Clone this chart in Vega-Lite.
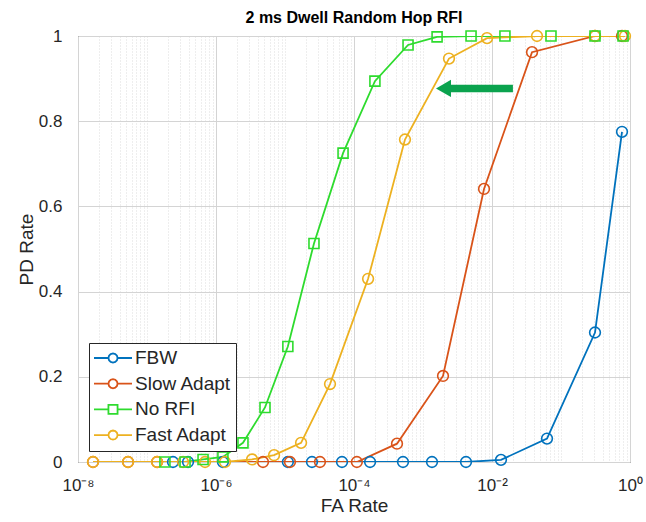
{
  "$schema": "https://vega.github.io/schema/vega-lite/v6.json",
  "autosize": "none",
  "padding": {"left": 78, "top": 36, "right": 16, "bottom": 60},
  "width": 552,
  "height": 426,
  "background": "white",
  "config": {
    "font": "Liberation Sans",
    "view": {"stroke": "#262626", "strokeWidth": 1},
    "axis": {"domain": false, "ticks": false, "labelFont": "Liberation Sans", "titleFont": "Liberation Sans", "labelColor": "#262626", "titleColor": "#262626", "titleFontWeight": "normal"}
  },
  "title": {"text": "2 ms Dwell Random Hop RFI", "fontSize": 16, "fontWeight": "bold", "font": "Liberation Sans", "color": "#000000", "offset": 1},
  "datasets": {
    "roc": [
      {"series": "FBW", "fa": 2.38e-7, "pd": 0},
      {"series": "FBW", "fa": 3.93e-7, "pd": 0},
      {"series": "FBW", "fa": 1.26e-6, "pd": 0},
      {"series": "FBW", "fa": 1.10e-5, "pd": 0},
      {"series": "FBW", "fa": 2.46e-5, "pd": 0},
      {"series": "FBW", "fa": 6.7e-5, "pd": 0},
      {"series": "FBW", "fa": 1.71e-4, "pd": 0},
      {"series": "FBW", "fa": 5.13e-4, "pd": 0},
      {"series": "FBW", "fa": 1.35e-3, "pd": 0},
      {"series": "FBW", "fa": 4.2e-3, "pd": 0},
      {"series": "FBW", "fa": 0.0135, "pd": 0.005},
      {"series": "FBW", "fa": 0.0627, "pd": 0.055},
      {"series": "FBW", "fa": 0.311, "pd": 0.304},
      {"series": "FBW", "fa": 0.766, "pd": 0.775},
      {"series": "Slow Adapt", "fa": 1.65e-8, "pd": 0},
      {"series": "Slow Adapt", "fa": 5.31e-8, "pd": 0},
      {"series": "Slow Adapt", "fa": 1.40e-7, "pd": 0},
      {"series": "Slow Adapt", "fa": 4.80e-6, "pd": 0},
      {"series": "Slow Adapt", "fa": 1.18e-5, "pd": 0},
      {"series": "Slow Adapt", "fa": 3.21e-5, "pd": 0},
      {"series": "Slow Adapt", "fa": 1.10e-4, "pd": 0},
      {"series": "Slow Adapt", "fa": 4.20e-4, "pd": 0.043},
      {"series": "Slow Adapt", "fa": 1.95e-3, "pd": 0.202},
      {"series": "Slow Adapt", "fa": 7.66e-3, "pd": 0.641},
      {"series": "Slow Adapt", "fa": 0.038, "pd": 0.962},
      {"series": "Slow Adapt", "fa": 0.311, "pd": 1.0},
      {"series": "Slow Adapt", "fa": 0.766, "pd": 1.0},
      {"series": "No RFI", "fa": 1.82e-7, "pd": 0},
      {"series": "No RFI", "fa": 3.56e-7, "pd": 0},
      {"series": "No RFI", "fa": 6.49e-7, "pd": 0.006},
      {"series": "No RFI", "fa": 1.26e-6, "pd": 0.012},
      {"series": "No RFI", "fa": 2.46e-6, "pd": 0.045},
      {"series": "No RFI", "fa": 5.13e-6, "pd": 0.128},
      {"series": "No RFI", "fa": 1.10e-5, "pd": 0.271},
      {"series": "No RFI", "fa": 2.63e-5, "pd": 0.513},
      {"series": "No RFI", "fa": 6.94e-5, "pd": 0.725},
      {"series": "No RFI", "fa": 2.01e-4, "pd": 0.894},
      {"series": "No RFI", "fa": 6.07e-4, "pd": 0.979},
      {"series": "No RFI", "fa": 1.60e-3, "pd": 0.998},
      {"series": "No RFI", "fa": 4.97e-3, "pd": 1.0},
      {"series": "No RFI", "fa": 0.0154, "pd": 1.0},
      {"series": "No RFI", "fa": 0.0716, "pd": 1.0},
      {"series": "No RFI", "fa": 0.311, "pd": 1.0},
      {"series": "No RFI", "fa": 0.793, "pd": 1.0},
      {"series": "Fast Adapt", "fa": 1.65e-8, "pd": 0},
      {"series": "Fast Adapt", "fa": 5.31e-8, "pd": 0},
      {"series": "Fast Adapt", "fa": 1.40e-7, "pd": 0},
      {"series": "Fast Adapt", "fa": 3.33e-7, "pd": 0},
      {"series": "Fast Adapt", "fa": 6.94e-7, "pd": 0},
      {"series": "Fast Adapt", "fa": 1.35e-6, "pd": 0},
      {"series": "Fast Adapt", "fa": 3.33e-6, "pd": 0.006},
      {"series": "Fast Adapt", "fa": 6.94e-6, "pd": 0.016},
      {"series": "Fast Adapt", "fa": 1.71e-5, "pd": 0.045},
      {"series": "Fast Adapt", "fa": 4.49e-5, "pd": 0.183},
      {"series": "Fast Adapt", "fa": 1.60e-4, "pd": 0.43},
      {"series": "Fast Adapt", "fa": 5.48e-4, "pd": 0.757},
      {"series": "Fast Adapt", "fa": 2.38e-3, "pd": 0.947},
      {"series": "Fast Adapt", "fa": 8.47e-3, "pd": 0.995},
      {"series": "Fast Adapt", "fa": 0.0449, "pd": 1.0},
      {"series": "Fast Adapt", "fa": 0.311, "pd": 1.0},
      {"series": "Fast Adapt", "fa": 0.847, "pd": 1.0}
    ],
    "arrow": [
      {"part": "shaft", "fa": 2.46e-3, "fa2": 0.0201, "pd": 0.877},
      {"part": "head", "fa": 1.98e-3, "fa2": 1.98e-3, "pd": 0.877}
    ]
  },
  "layer": [
    {
      "data": {"name": "roc"},
      "mark": {"type": "line", "strokeWidth": 1.8, "clip": true},
      "encoding": {
        "x": {
          "field": "fa", "type": "quantitative",
          "scale": {"type": "log", "domain": [1e-8, 1], "nice": false},
          "axis": {
            "title": "FA Rate", "titleFontSize": 19, "titlePadding": 3,
            "labelFontSize": 17, "labelPadding": 15, "labelFlush": false,
            "values": [1e-8, 2e-8, 3e-8, 4e-8, 5e-8, 6e-8, 7e-8, 8e-8, 9e-8,
                       1e-7, 2e-7, 3e-7, 4e-7, 5e-7, 6e-7, 7e-7, 8e-7, 9e-7,
                       1e-6, 2e-6, 3e-6, 4e-6, 5e-6, 6e-6, 7e-6, 8e-6, 9e-6,
                       1e-5, 2e-5, 3e-5, 4e-5, 5e-5, 6e-5, 7e-5, 8e-5, 9e-5,
                       1e-4, 2e-4, 3e-4, 4e-4, 5e-4, 6e-4, 7e-4, 8e-4, 9e-4,
                       1e-3, 2e-3, 3e-3, 4e-3, 5e-3, 6e-3, 7e-3, 8e-3, 9e-3,
                       1e-2, 2e-2, 3e-2, 4e-2, 5e-2, 6e-2, 7e-2, 8e-2, 9e-2,
                       1e-1, 2e-1, 3e-1, 4e-1, 5e-1, 6e-1, 7e-1, 8e-1, 9e-1, 1],
            "labelExpr": "datum.value == 1e-8 ? '10⁻⁸' : datum.value == 1e-6 ? '10⁻⁶' : datum.value == 1e-4 ? '10⁻⁴' : datum.value == 1e-2 ? '10⁻²' : datum.value == 1 ? '10⁰' : ''",
            "grid": true,
            "gridColor": {"condition": {"test": "indexof([1e-8, 1e-6, 1e-4, 1e-2, 1], datum.value) >= 0", "value": "#d4d4d4"}, "value": "#dcdcdc"},
            "gridDash": {"condition": {"test": "indexof([1e-8, 1e-6, 1e-4, 1e-2, 1], datum.value) >= 0", "value": []}, "value": [1, 2]},
            "gridWidth": 1
          }
        },
        "y": {
          "field": "pd", "type": "quantitative",
          "scale": {"domain": [0, 1], "nice": false},
          "axis": {
            "title": "PD Rate", "titleFontSize": 19, "titlePadding": 2,
            "labelFontSize": 17, "labelPadding": 16, "labelFlush": false,
            "values": [0, 0.2, 0.4, 0.6, 0.8, 1], "format": "~g",
            "grid": true, "gridColor": "#d4d4d4"
          }
        },
        "color": {
          "field": "series", "type": "nominal",
          "scale": {"domain": ["FBW", "Slow Adapt", "No RFI", "Fast Adapt"], "range": ["#0072BD", "#D95319", "#2EDB2E", "#EDB120"]},
          "legend": {
            "title": null, "orient": "none", "legendX": 11, "legendY": 307,
            "fillColor": "white", "strokeColor": "#262626", "padding": 4,
            "labelFontSize": 19, "labelFont": "Liberation Sans", "labelColor": "#262626", "labelOffset": 2,
            "symbolType": "M-1,0L-0.24,0M0.24,0L1,0M0.24,0L0.208,0.12L0.12,0.208L0,0.24L-0.12,0.208L-0.208,0.12L-0.24,0L-0.208,-0.12L-0.12,-0.208L0,-0.24L0.12,-0.208L0.208,-0.12Z",
            "symbolSize": 1444, "symbolStrokeWidth": 1.8, "symbolFillColor": "transparent",
            "clipHeight": 22, "rowPadding": 3.7,
            "encode": {
              "symbols": {
                "update": {
                  "shape": {"signal": "datum.value == 'No RFI' ? 'M-1,0L-0.24,0M0.24,0L1,0M-0.24,-0.24L0.24,-0.24L0.24,0.24L-0.24,0.24Z' : 'M-1,0L-0.24,0M0.24,0L1,0M0.24,0L0.208,0.12L0.12,0.208L0,0.24L-0.12,0.208L-0.208,0.12L-0.24,0L-0.208,-0.12L-0.12,-0.208L0,-0.24L0.12,-0.208L0.208,-0.12Z'"}
                }
              }
            }
          }
        },
        "order": {"field": "fa", "type": "quantitative"}
      }
    },
    {
      "data": {"name": "roc"},
      "transform": [{"filter": "datum.series != 'No RFI'"}],
      "mark": {"type": "point", "shape": "circle", "filled": false, "strokeWidth": 1.6, "opacity": 1, "size": 115},
      "encoding": {
        "x": {"field": "fa", "type": "quantitative"},
        "y": {"field": "pd", "type": "quantitative"},
        "color": {"field": "series", "type": "nominal", "legend": null}
      }
    },
    {
      "data": {"name": "roc"},
      "transform": [{"filter": "datum.series == 'No RFI'"}],
      "mark": {"type": "point", "shape": "square", "filled": false, "strokeWidth": 1.6, "opacity": 1, "size": 100},
      "encoding": {
        "x": {"field": "fa", "type": "quantitative"},
        "y": {"field": "pd", "type": "quantitative"},
        "color": {"field": "series", "type": "nominal", "legend": null}
      }
    },
    {
      "data": {"name": "arrow"},
      "transform": [{"filter": "datum.part == 'shaft'"}],
      "mark": {"type": "rule", "color": "#0BA34E", "strokeWidth": 7.5},
      "encoding": {
        "x": {"field": "fa", "type": "quantitative"},
        "x2": {"field": "fa2"},
        "y": {"field": "pd", "type": "quantitative"}
      }
    },
    {
      "data": {"name": "arrow"},
      "transform": [{"filter": "datum.part == 'head'"}],
      "mark": {"type": "point", "shape": "triangle-left", "filled": true, "color": "#0BA34E", "size": 300, "opacity": 1},
      "encoding": {
        "x": {"field": "fa", "type": "quantitative"},
        "y": {"field": "pd", "type": "quantitative"}
      }
    }
  ]
}
